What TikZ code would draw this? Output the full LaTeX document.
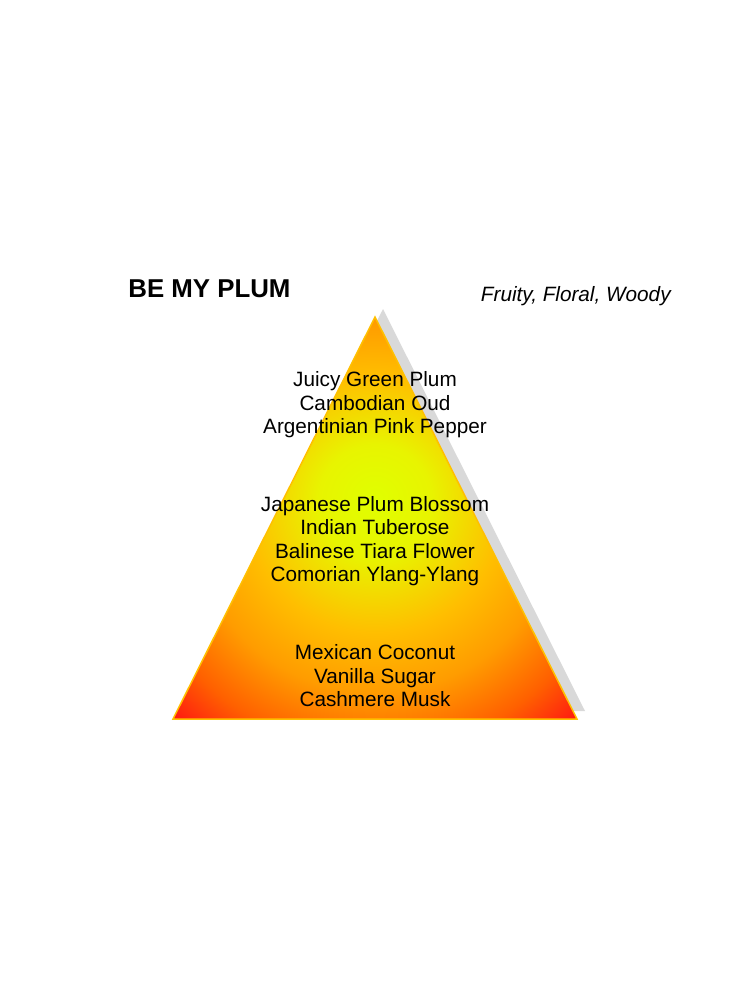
\documentclass[tikz,border=0pt]{standalone}
\usepackage{fontspec}
\setmainfont{Liberation Sans}
\usetikzlibrary{positioning}

\definecolor{glowcore}{HTML}{E0FF00}
\definecolor{glowlime}{HTML}{E8F400}
\definecolor{glowmid}{HTML}{FFBE00}
\definecolor{gloworange}{HTML}{FF9C00}
\definecolor{glowdeep}{HTML}{FF6000}
\definecolor{glowred}{HTML}{FF0A14}
\definecolor{pyredge}{HTML}{FFC000}
\definecolor{shadowgray}{HTML}{D9D9D9}

\pgfdeclareradialshading{plumglow}{\pgfpoint{0bp}{2.5bp}}{%
  color(0bp)=(glowcore); color(7bp)=(glowlime); color(16bp)=(glowmid);
  color(23bp)=(gloworange); color(30bp)=(glowdeep); color(37bp)=(glowred);
  color(50bp)=(glowred)}

\newcommand\notefont{\fontsize{11.8}{13.4}\selectfont}

\begin{document}
\begin{tikzpicture}[
  x=0.02cm, y=-0.02cm,
  every node/.style={font=\notefont, align=center, inner sep=0pt},
  title/.style={font=\fontsize{14.7}{16}\selectfont\bfseries},
  family/.style={font=\notefont\itshape},
  shadow/.style={fill=shadowgray, draw=none},
  pyramid/.style={shading=plumglow, draw=pyredge, line width=0.85pt, line join=miter}
]
\useasboundingbox (0,0) rectangle (750,1000);

\coordinate (apex) at (375,317);
\coordinate (left) at (173,719);
\coordinate (right) at (577,719);

% shadow, then the pyramid itself
\fill[shadow] ([shift={(8,-8)}]apex) -- ([shift={(8,-8)}]left) -- ([shift={(8,-8)}]right) -- cycle;
\shadedraw[pyramid] (apex) -- (left) -- (right) -- cycle;

\node[title, anchor=west] (name) at (128,289) {BE MY PLUM};
\node[family, anchor=east] (kind) at (671,296) {Fruity, Floral, Woody};

\node (top) at (375,405) {Juicy Green Plum\\Cambodian Oud\\Argentinian Pink Pepper};
\node (heart) at (375,541) {Japanese Plum Blossom\\Indian Tuberose\\Balinese Tiara Flower\\Comorian Ylang-Ylang};
\node (base) at (375,676) {Mexican Coconut\\Vanilla Sugar\\Cashmere Musk};

\end{tikzpicture}
\end{document}
